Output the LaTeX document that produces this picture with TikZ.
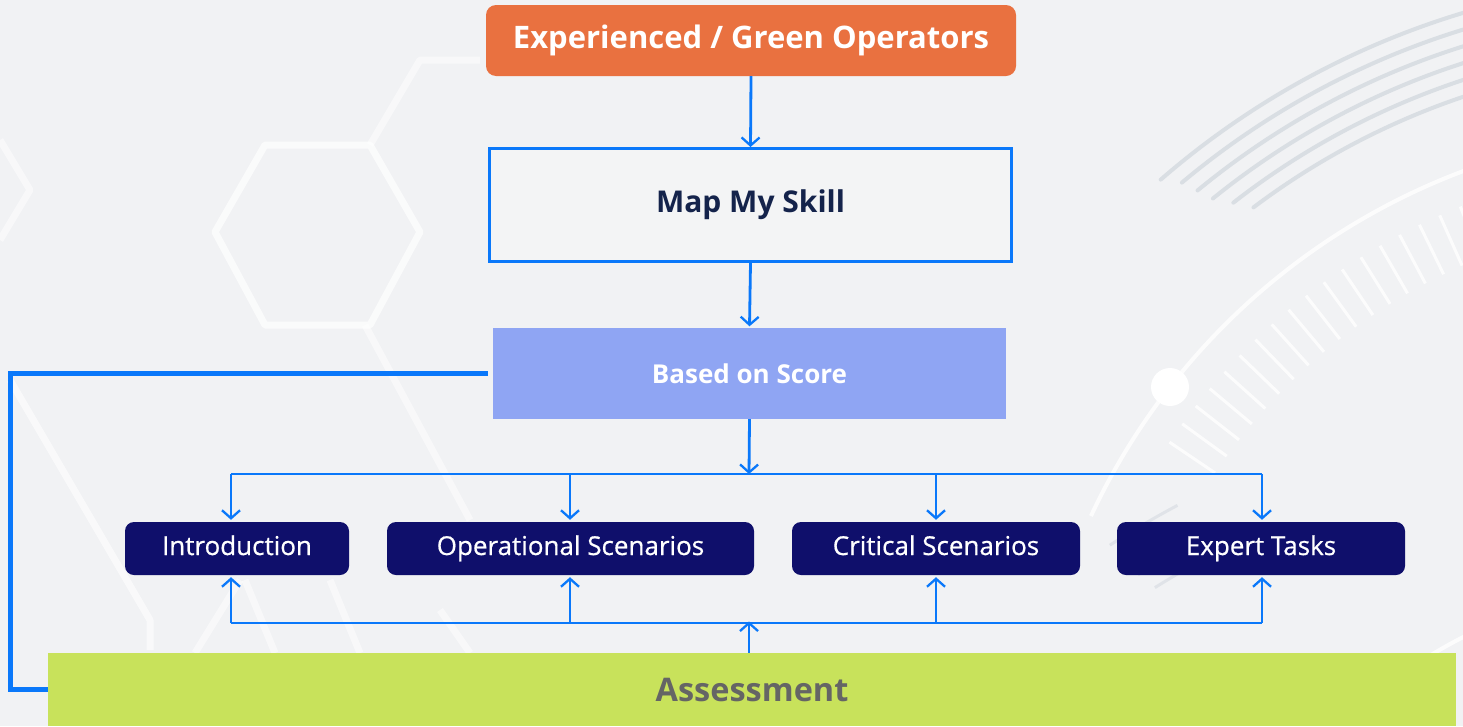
\documentclass[tikz,border=0pt]{standalone}
\usepackage{fontspec}
\setmainfont{Open Sans}
\newfontfamily\medfont[FakeBold=0.6]{Open Sans}
\usetikzlibrary{arrows.meta,calc}
\definecolor{bgc}{HTML}{F1F2F4}
\definecolor{orng}{HTML}{E97140}
\definecolor{lineblue}{HTML}{0A78FA}
\definecolor{scoreblue}{HTML}{8FA5F3}
\definecolor{navy}{HTML}{0F0F6B}
\definecolor{limeg}{HTML}{C8E25B}
\definecolor{asstext}{HTML}{656565}
\definecolor{mapnavy}{HTML}{14234B}
\definecolor{mapfill}{HTML}{F3F4F5}
\definecolor{arcgray}{HTML}{D9DEE3}
\tikzset{
  boxbase/.style={rectangle, inner sep=0pt, align=center},
  topbox/.style={boxbase, fill=orng, rounded corners=10pt, text=white, font=\bfseries\fontsize{31}{36}\selectfont},
  mapbox/.style={boxbase, fill=mapfill, draw=lineblue, line width=3pt, text=mapnavy, font=\bfseries\fontsize{30}{36}\selectfont},
  scorebox/.style={boxbase, fill=scoreblue, text=white, font=\bfseries\fontsize{26}{30}\selectfont},
  modbox/.style={boxbase, fill=navy, rounded corners=9pt, text=white, font=\medfont\fontsize{26}{30}\selectfont, minimum height=53pt, text height=19pt, text depth=6pt},
  assbox/.style={boxbase, fill=limeg, text=asstext, font=\bfseries\fontsize{32.5}{38}\selectfont},
  conn/.style={draw=lineblue, line width=2.8pt},
  arr/.style={conn, -{Straight Barb[length=8pt,width=18pt,line width=2.3pt]}},
  hexline/.style={draw=white, line width=7pt, opacity=0.7, line join=round},
  arcline/.style={draw=arcgray, line width=4pt, line cap=round},
  warc/.style={draw=white, line width=4pt, opacity=0.8}
}
\begin{document}
\begin{tikzpicture}[x=1pt,y=-1pt]
\useasboundingbox (0,0) rectangle (1463,726);
\fill[bgc] (0,0) rectangle (1463,726);
% background decoration
\draw[hexline] (215,232) -- (265,145) -- (370,145) -- (420,232) -- (370,325) -- (265,325) -- cycle;
\draw[hexline,opacity=0.5] (0,140) -- (30,190) -- (0,240);
\draw[hexline,opacity=0.5] (370,145) -- (420,60) -- (480,60);
\draw[hexline,opacity=0.6] (10,380) -- (150,620) -- (150,650);
\draw[hexline,opacity=0.5] (365,325) -- (470,520);
\draw[hexline,opacity=0.5] (240,580) -- (195,653);
\draw[hexline,opacity=0.5] (245,580) -- (275,653);
\draw[hexline,opacity=0.5] (330,580) -- (360,653);
\draw[hexline,opacity=0.5] (440,610) -- (470,653);
\foreach \r/\a in {822/-131, 806/-130, 790/-129.5, 774/-129, 758/-128, 742/-127}{
  \draw[arcline] (1700,800) ++(\a:\r) arc[start angle=\a, end angle=-104, radius=\r];
}
\draw[warc] (1700,800) ++(-155:672) arc[start angle=-155, end angle=-104, radius=672];
\fill[white] (1170,387) circle (19);
\foreach \i in {0,...,22}{
  \pgfmathsetmacro{\ang}{-146+\i*2.0}
  \draw[white, line width=3pt, opacity=0.8] (1700,800) ++(\ang:640) -- ++(\ang+180:55);
}
\foreach \r/\a in {900/-123, 880/-123, 860/-122.5, 840/-122}{
  \draw[arcgray, line width=3pt, opacity=0.7] (1600,1300) ++(\a:\r) arc[start angle=\a, end angle=\a+5, radius=\r];
}
\draw[warc] (1700,1100) ++(-140:520) arc[start angle=-140, end angle=-110, radius=520];

% nodes
\node[topbox, minimum width=530pt, minimum height=71pt] (top) at (751,40.5) {Experienced / Green Operators};
\node[mapbox, minimum width=522pt, minimum height=113pt] (map) at (750.5,205) {Map My Skill};
\node[scorebox, minimum width=513pt, minimum height=91pt] (bos) at (749.5,373.5) {Based on Score};
\node[modbox, minimum width=224pt] (intro) at (237,548.5) {Introduction};
\node[modbox, minimum width=367pt] (oper) at (570.5,548.5) {Operational Scenarios};
\node[modbox, minimum width=288pt] (crit) at (936,548.5) {Critical Scenarios};
\node[modbox, minimum width=288pt] (expert) at (1261,548.5) {Expert Tasks};
\node[assbox, minimum width=1408pt, minimum height=73pt] (assess) at (752,689.5) {Assessment};

\coordinate (busT) at (749,474);
\coordinate (busB) at (749,623);
\coordinate (lc) at (10,0);
\coordinate (cI) at (231,0);
\coordinate (cO) at (570,0);
\coordinate (cC) at (936,0);
\coordinate (cE) at (1262,0);

% connectors
\draw[arr] (top.south) -- (map.north);
\draw[arr] (map.south) -- ([yshift=1.5pt]bos.north);
\draw[arr] (bos.south) -- (busT);
\draw[conn] (cI |- busT) -- (cE |- busT);
\draw[conn] (cI |- busB) -- (cE |- busB);
\draw[arr, shorten >=2pt] (cI |- busT) -- (cI |- intro.north);
\draw[arr, shorten >=2pt] (cO |- busT) -- (cO |- oper.north);
\draw[arr, shorten >=2pt] (cC |- busT) -- (cC |- crit.north);
\draw[arr, shorten >=2pt] (cE |- busT) -- (cE |- expert.north);
\draw[arr, shorten >=2pt] (cI |- busB) -- (cI |- intro.south);
\draw[arr, shorten >=2pt] (cO |- busB) -- (cO |- oper.south);
\draw[arr, shorten >=2pt] (cC |- busB) -- (cC |- crit.south);
\draw[arr, shorten >=2pt] (cE |- busB) -- (cE |- expert.south);
\draw[arr] (busB |- assess.north) -- ([yshift=1.5pt]busB);
\draw[draw=lineblue, line width=5pt] ([xshift=-5pt]bos.west) -- (bos.west -| lc) |- (assess.west);
\end{tikzpicture}
\end{document}
